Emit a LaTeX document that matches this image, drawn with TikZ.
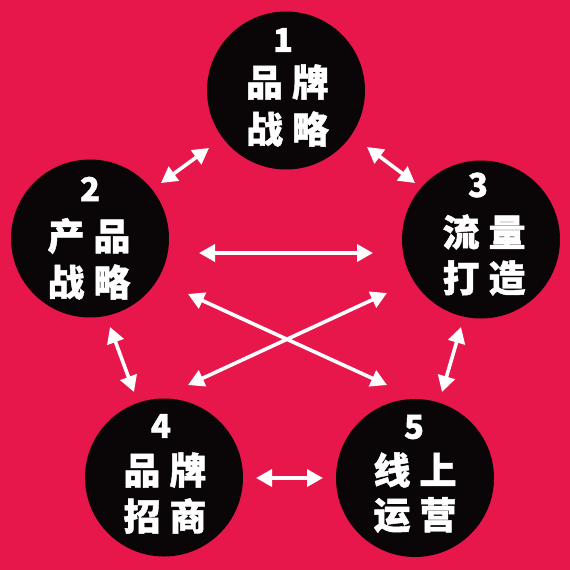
\documentclass[tikz,border=0pt]{standalone}
\usepackage{fontspec}
\setmainfont{Noto Sans CJK SC}[BoldFeatures={FakeBold=1.2}]
\usetikzlibrary{arrows.meta}
\definecolor{bg}{HTML}{E8174B}
\definecolor{disk}{HTML}{0A0507}
\begin{document}
\begin{tikzpicture}[x=1pt,y=-1pt,
  circ/.style={circle, fill=disk, minimum size=158pt, inner sep=0pt},
  num/.style={text=white, font=\fontsize{33}{33}\selectfont\bfseries, inner sep=0pt},
  lab/.style={text=white, font=\fontsize{37}{37}\selectfont\bfseries, inner sep=0pt},
  arr/.style={draw=white, line width=3.6pt, {Triangle[length=16pt,width=17pt]}-{Triangle[length=16pt,width=17pt]}}]
\fill[bg] (0,0) rectangle (570,570);
\useasboundingbox (0,0) rectangle (570,570);
% circles
\node[circ] (c1) at (286,90.5) {};
\node[circ] (c2) at (90,238.5) {};
\node[circ] (c3) at (481,239.5) {};
\node[circ] (c4) at (164,477.5) {};
\node[circ] (c5) at (415,478) {};
% texts
\node[num] (n1) at (283,40) {1};
\node[lab] (t1a) at (287.5,82) {品\hspace{9pt}牌};
\node[lab] (t1b) at (287.5,129) {战\hspace{9pt}略};
\node[num] (n2) at (90,189) {2};
\node[lab] (t2a) at (89,236) {产\hspace{9pt}品};
\node[lab] (t2b) at (89,282) {战\hspace{9pt}略};
\node[num] (n3) at (478,185) {3};
\node[lab] (t3a) at (484,232) {流\hspace{9pt}量};
\node[lab] (t3b) at (484,278) {打\hspace{9pt}造};
\node[num] (n4) at (161,426) {4};
\node[lab] (t4a) at (165,470) {品\hspace{9pt}牌};
\node[lab] (t4b) at (165,516) {招\hspace{9pt}商};
\node[num] (n5) at (414,427) {5};
\node[lab] (t5a) at (415,470) {线\hspace{9pt}上};
\node[lab] (t5b) at (415,515) {运\hspace{9pt}营};
% arrow end points
\coordinate (a12a) at (161,183);
\coordinate (a12b) at (209,148);
\coordinate (a13a) at (367,147);
\coordinate (a13b) at (415,183);
\coordinate (a23a) at (199,253);
\coordinate (a23b) at (373,253);
\coordinate (a25a) at (188,294);
\coordinate (a25b) at (387,385);
\coordinate (a34a) at (387,293);
\coordinate (a34b) at (188,385);
\coordinate (a24a) at (110,327);
\coordinate (a24b) at (134,392);
\coordinate (a35a) at (461,327);
\coordinate (a35b) at (442,392);
\coordinate (a45a) at (256,478);
\coordinate (a45b) at (323,478);
% arrows
\draw[arr] (a12a) -- (a12b);
\draw[arr] (a13a) -- (a13b);
\draw[arr] (a23a) -- (a23b);
\draw[arr] (a25a) -- (a25b);
\draw[arr] (a34a) -- (a34b);
\draw[arr] (a24a) -- (a24b);
\draw[arr] (a35a) -- (a35b);
\draw[arr] (a45a) -- (a45b);
\end{tikzpicture}
\end{document}
